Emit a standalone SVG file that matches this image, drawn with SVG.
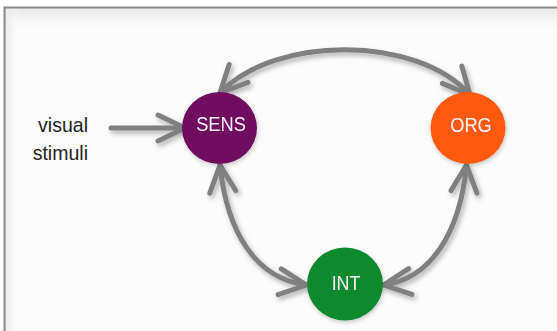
<svg xmlns="http://www.w3.org/2000/svg" width="557" height="331" viewBox="0 0 557 331">
  <defs>
    <style>
      .frame { stroke: #8a8a8a; stroke-width: 2; fill: none; }
      .link { stroke: #808080; stroke-width: 5; fill: none; stroke-linecap: round; }
      .label { font-family: "Liberation Sans", Arial, sans-serif; font-size: 21px; fill: #222222; text-anchor: end; }
      .node-text { font-family: "Liberation Sans", Arial, sans-serif; font-size: 21px; fill: #fbf2fa; text-anchor: middle; }
    </style>
    <linearGradient id="topShade" x1="0" y1="0" x2="0" y2="1">
      <stop offset="0" stop-color="#e6e6e6"/>
      <stop offset="1" stop-color="#fcfcfc" stop-opacity="0"/>
    </linearGradient>
    <linearGradient id="leftShade" x1="0" y1="0" x2="1" y2="0">
      <stop offset="0" stop-color="#e8e8e8"/>
      <stop offset="1" stop-color="#fcfcfc" stop-opacity="0"/>
    </linearGradient>
    <filter id="softShadow" x="-20%" y="-20%" width="140%" height="140%">
      <feDropShadow dx="2" dy="3" stdDeviation="2.5" flood-color="#000" flood-opacity="0.3"/>
    </filter>
    <filter id="nodeShadow" x="-20%" y="-20%" width="140%" height="140%">
      <feDropShadow dx="1" dy="2" stdDeviation="2" flood-color="#000" flood-opacity="0.2"/>
    </filter>
    <marker id="arrow" viewBox="-32 -18 36 36" markerWidth="36" markerHeight="36" refX="0" refY="0" markerUnits="userSpaceOnUse" orient="auto-start-reverse">
      <path d="M-27,-13 L0,0 L-27,13" stroke="#808080" stroke-width="5" fill="none" stroke-linecap="round" stroke-linejoin="round"/>
    </marker>
  </defs>

  <!-- page background and frame -->
  <rect x="0" y="0" width="557" height="331" fill="#ffffff"/>
  <rect x="4.5" y="7.5" width="553" height="324" fill="#fcfcfc"/>
  <rect x="4.5" y="7.5" width="553" height="26" fill="url(#topShade)"/>
  <rect x="4.5" y="7.5" width="16" height="324" fill="url(#leftShade)"/>
  <path class="frame" d="M4.5,331 L4.5,7.5 L557,7.5"/>

  <!-- input label -->
  <g id="input-label">
    <text class="label" transform="translate(88,132) scale(0.93,1)">visual</text>
    <text class="label" transform="translate(88,160) scale(0.93,1)">stimuli</text>
  </g>

  <!-- connectors -->
  <g id="connectors" filter="url(#softShadow)">
    <path class="link" d="M111,128 L185,128" marker-end="url(#arrow)"/>
    <path class="link" d="M220,93 C275,35 417,35 470,95" marker-start="url(#arrow)" marker-end="url(#arrow)"/>
    <path class="link" d="M220,165 C227,234 257,279 306.5,285" marker-start="url(#arrow)" marker-end="url(#arrow)"/>
    <path class="link" d="M466.5,165 C460,234 430,279 383.5,285" marker-start="url(#arrow)" marker-end="url(#arrow)"/>
  </g>

  <!-- nodes -->
  <g id="node-sens" filter="url(#nodeShadow)">
    <ellipse cx="219.5" cy="128" rx="37.5" ry="36" fill="#6f0b61"/>
    <text class="node-text" transform="translate(221,131) scale(0.87,1)">SENS</text>
  </g>
  <g id="node-org" filter="url(#nodeShadow)">
    <ellipse cx="468" cy="128" rx="37.5" ry="36" fill="#ff5a0f"/>
    <text class="node-text" transform="translate(471,132) scale(0.87,1)">ORG</text>
  </g>
  <g id="node-int" filter="url(#nodeShadow)">
    <ellipse cx="345" cy="284" rx="38" ry="36.5" fill="#108a2f"/>
    <text class="node-text" transform="translate(346,290) scale(0.85,1)">INT</text>
  </g>
</svg>
